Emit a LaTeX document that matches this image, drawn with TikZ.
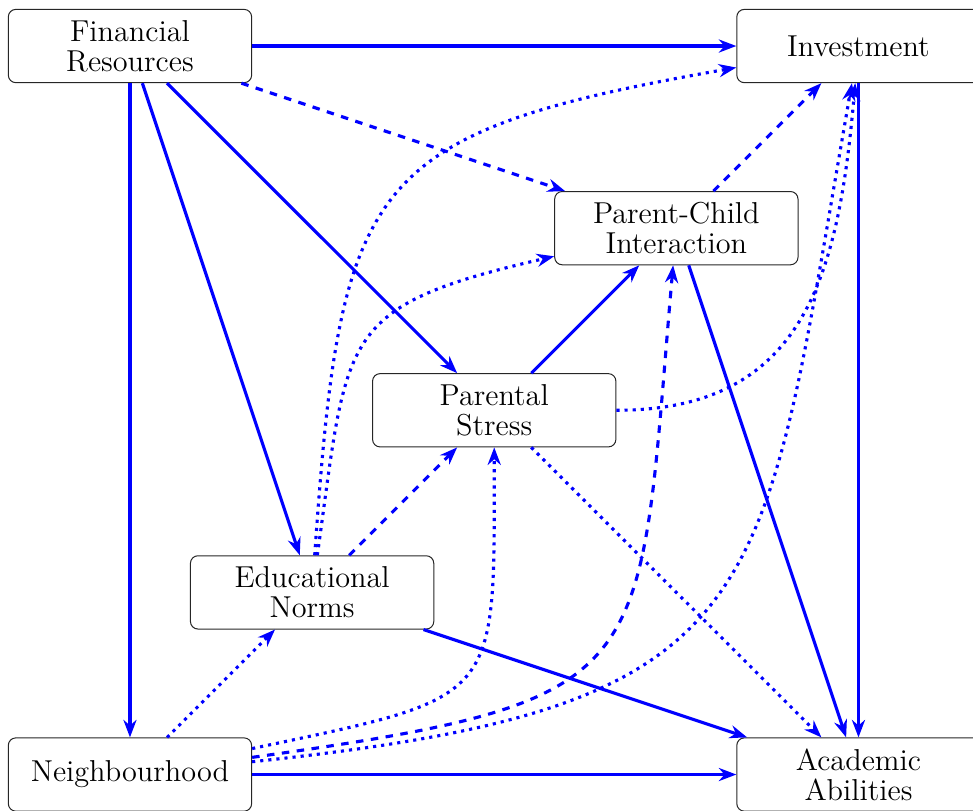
\documentclass[tikz,border=0pt]{standalone}
\usetikzlibrary{arrows.meta}
\begin{document}
\begin{tikzpicture}[>={Stealth[length=7pt]}]
        \tikzset{box node/.style={rectangle, rounded corners=3pt, draw=black!85, minimum width=3.42cm, minimum height=1.03cm, inner sep=2pt, align=center, font=\fontsize{12.1}{11.9}\selectfont}}
        \tikzset{link/.style={->, draw=blue, line width=1.25pt}}
        \useasboundingbox (-1.827,0.647) rectangle (11.85,-10.74);
        \node[box node] (fin) at (0,0) {Financial\\Resources};
        \node[box node] (inv) at (10.24,0) {Investment};
        \node[box node] (pc) at (7.68,-2.56) {Parent-Child\\Interaction};
        \node[box node] (stress) at (5.12,-5.12) {Parental\\Stress};
        \node[box node] (edu) at (2.56,-7.68) {Educational\\Norms};
        \node[box node] (nbh) at (0,-10.24) {Neighbourhood};
        \node[box node] (acad) at (10.24,-10.24) {Academic\\Abilities};
        \draw[link] (fin) -- (inv);
        \draw[link] (fin) -- (nbh);
        \draw[link] (fin) -- (edu);
        \draw[link] (fin) -- (stress);
        \draw[link, dashed] (fin) -- (pc);
        \draw[link] (stress) -- (pc);
        \draw[link, dashed] (pc) -- (inv);
        \draw[link] (pc) -- (acad);
        \draw[link] (inv) -- (acad);
        \draw[link, dashed] (edu) -- (stress);
        \draw[link] (edu) -- (acad);
        \draw[link, dotted] (stress) -- (acad);
        \draw[link, dotted] (nbh) -- (edu);
        \draw[link] (nbh) -- (acad);
        \draw[link, dotted] (edu) to[out=86, in=190, looseness=1.5] (inv);
        \draw[link, dotted] (edu) to[out=82, in=193, looseness=1.5] (pc);
        \draw[link, dotted] (nbh) to[out=12, in=-90, looseness=1.7] (stress);
        \draw[link, dashed] (nbh) to[out=8, in=-95, looseness=1.65] (pc);
        \draw[link, dotted] (nbh) to[out=6, in=-100, looseness=1.5] (inv);
        \draw[link, dotted] (stress) to[out=0, in=-95, looseness=1.2] (inv);
\end{tikzpicture}
\end{document}
